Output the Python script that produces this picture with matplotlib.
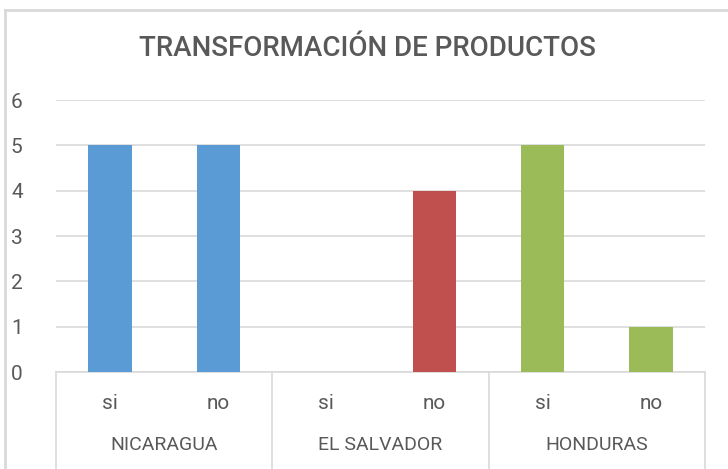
import matplotlib.pyplot as plt
import matplotlib.transforms as mtransforms
from matplotlib.lines import Line2D
import numpy as np

# Data
countries = ['NICARAGUA', 'EL SALVADOR', 'HONDURAS']
answers = ['si', 'no']
values = [5, 5, 0, 4, 5, 1]
colors = ['#5B9BD5', '#C0504D', '#9BBB59']

plt.rcParams['font.family'] = ['Roboto', 'DejaVu Sans']
text_color = '#595959'

fig = plt.figure(figsize=(7.28, 4.69), dpi=100)
ax = fig.add_axes([56 / 728, 1 - 372 / 469, (705 - 56) / 728, (372 - 100) / 469])

x_pos = np.arange(len(values))
bar_colors = [colors[i // 2] for i in range(len(values))]
ax.bar(x_pos, values, width=0.4, color=bar_colors, zorder=3)

ax.set_xlim(-0.5, len(values) - 0.5)
ax.set_ylim(0, 6)
ax.set_yticks(range(0, 7))
ax.tick_params(axis='y', length=0, labelsize=15, labelcolor=text_color, pad=24)
ax.set_xticks([])
ax.grid(axis='y', color='#d9d9d9', linewidth=1.2, zorder=0)
for s in ['top', 'right', 'left']:
    ax.spines[s].set_visible(False)
ax.spines['bottom'].set_color('#d9d9d9')
ax.spines['bottom'].set_linewidth(1.2)

# Multi-level category axis
trans = mtransforms.blended_transform_factory(ax.transData, ax.transAxes)
for i, x in enumerate(x_pos):
    ax.text(x, -0.115, answers[i % 2], transform=trans, ha='center', va='center',
            fontsize=15, color=text_color)
for j, c in enumerate(countries):
    ax.text(2 * j + 0.5, -0.27, c, transform=trans, ha='center', va='center',
            fontsize=14, color=text_color)
for b in [-0.5, 1.5, 3.5, 5.5]:
    ax.add_line(Line2D([b, b], [0, -0.36], transform=trans, color='#d9d9d9',
                       linewidth=1.2, clip_on=False))

fig.text(367 / 728, 1 - 48 / 469, 'TRANSFORMACIÓN DE PRODUCTOS', fontsize=20,
         color=text_color, fontweight='medium', ha='center', va='center')

# Chart border (partially cropped)
fig.add_artist(Line2D([5 / 728, 5 / 728], [0, 1 - 10 / 469], transform=fig.transFigure,
                      color='#d9d9d9', linewidth=2))
fig.add_artist(Line2D([5 / 728, 1], [1 - 10 / 469, 1 - 10 / 469], transform=fig.transFigure,
                      color='#d9d9d9', linewidth=2))

plt.savefig('out.png', dpi=100)
